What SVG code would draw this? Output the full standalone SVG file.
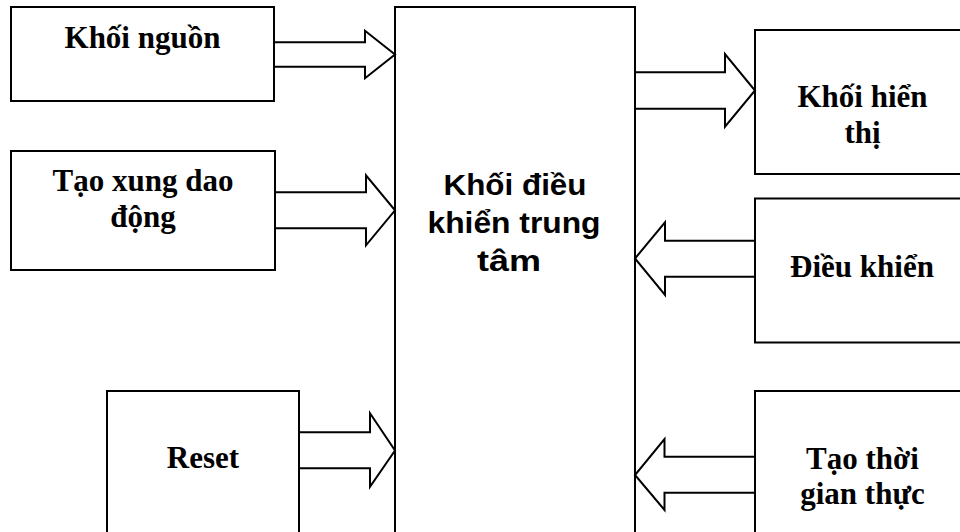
<svg xmlns="http://www.w3.org/2000/svg" width="960" height="532" viewBox="0 0 960 532">
  <style>
    .box { fill: #ffffff; stroke: #000000; stroke-width: 2; }
    .arrow { fill: #ffffff; stroke: #000000; stroke-width: 2; stroke-linejoin: miter; }
    .lbl { font-family: "Liberation Serif", "Times New Roman", serif; font-weight: bold; font-size: 31px; fill: #000000; text-anchor: middle; }
    .core { font-family: "Liberation Sans", Arial, sans-serif; font-weight: bold; font-size: 29px; fill: #000000; text-anchor: middle; }
  </style>
  <rect width="960" height="532" fill="#ffffff"/>

  <g id="khoi-dieu-khien-trung-tam">
    <rect class="box" x="395" y="7" width="240" height="540"/>
    <text class="core" x="515" y="195" textLength="143" lengthAdjust="spacingAndGlyphs">Khối điều</text>
    <text class="core" x="514" y="233" textLength="173" lengthAdjust="spacingAndGlyphs">khiển trung</text>
    <text class="core" x="509" y="271" textLength="64" lengthAdjust="spacingAndGlyphs">tâm</text>
  </g>

  <g id="khoi-nguon">
    <rect class="box" x="11" y="7" width="263" height="94"/>
    <text class="lbl" x="142.5" y="48">Khối nguồn</text>
  </g>

  <g id="tao-xung-dao-dong">
    <rect class="box" x="11" y="151" width="264" height="119"/>
    <text class="lbl" x="143" y="191">Tạo xung dao</text>
    <text class="lbl" x="143" y="227">động</text>
  </g>

  <g id="reset">
    <rect class="box" x="107" y="391" width="192" height="160"/>
    <text class="lbl" x="203" y="468">Reset</text>
  </g>

  <g id="khoi-hien-thi">
    <rect class="box" x="755" y="30" width="215" height="144"/>
    <text class="lbl" x="862.5" y="107">Khối hiển</text>
    <text class="lbl" x="862.5" y="143">thị</text>
  </g>

  <g id="dieu-khien">
    <rect class="box" x="755" y="198.5" width="215" height="144"/>
    <text class="lbl" x="862" y="277">Điều khiển</text>
  </g>

  <g id="tao-thoi-gian-thuc">
    <rect class="box" x="755" y="391" width="215" height="160"/>
    <text class="lbl" x="862.5" y="469">Tạo thời</text>
    <text class="lbl" x="862.5" y="504">gian thực</text>
  </g>

  <g id="connectors">
    <!-- inputs into the central block -->
    <polygon class="arrow" points="274,42.3 365,42.3 365,30.7 395,54.5 365,78.3 365,66.7 274,66.7"/>
    <polygon class="arrow" points="275,192.3 366,192.3 366,175.3 395,210.3 366,245.3 366,228.3 275,228.3"/>
    <polygon class="arrow" points="299,432.3 370,432.3 370,413.3 395,450.5 370,486.7 370,468.3 299,468.3"/>
    <!-- output to the display block -->
    <polygon class="arrow" points="635,72.3 725,72.3 725,54 755,90.5 725,126.7 725,108.7 635,108.7"/>
    <!-- inputs from the right-hand blocks -->
    <polygon class="arrow" points="755,240.7 665,240.7 665,222.3 635,258.5 665,295 665,276.7 755,276.7"/>
    <polygon class="arrow" points="755,456.7 664.5,456.7 664.5,439 635,475 664.5,510 664.5,492.7 755,492.7"/>
  </g>
</svg>
